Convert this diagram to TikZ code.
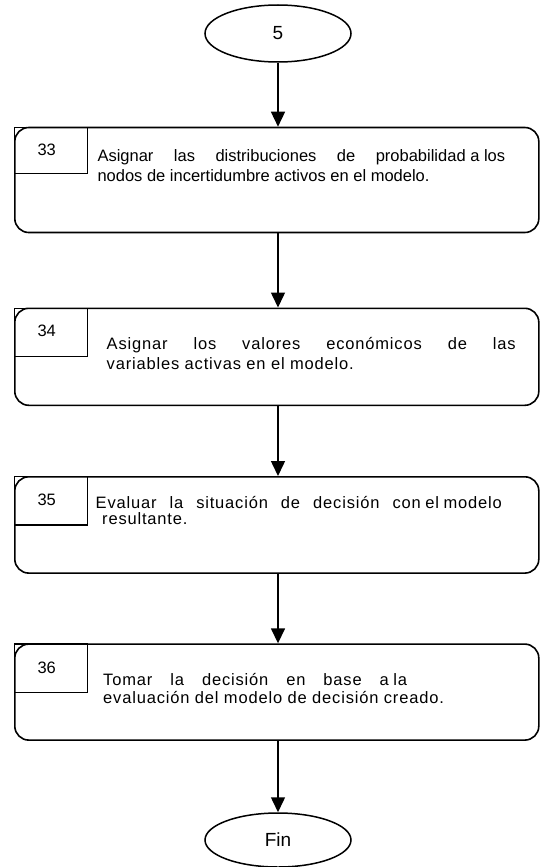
\documentclass[tikz,border=0pt]{standalone}
\usepackage{fontspec}
\setmainfont{Liberation Sans}
\newfontfamily\widefont[LetterSpace=5]{Liberation Sans}
\usetikzlibrary{shapes.geometric,arrows.meta}
\newcommand\fsp{\kern0.278em}
\begin{document}
\begin{tikzpicture}[x=1pt,y=-1pt,
  bigbox/.style={draw, line width=1.6pt, rounded corners=14pt, minimum width=524pt, inner sep=0pt, anchor=north west},
  numbox/.style={draw, line width=1.2pt, minimum width=72.5pt, inner sep=0pt, anchor=north west},
  term/.style={draw, ellipse, line width=1.5pt, minimum width=146pt, inner sep=0pt, font=\fontsize{19}{22}\selectfont},
  txt/.style={inner sep=0pt, anchor=base west, font=\fontsize{16.5}{19}\selectfont},
  wtxt/.style={inner sep=0pt, anchor=base west, font=\widefont\fontsize{16.5}{19}\selectfont},
  num/.style={inner sep=0pt, anchor=base, font=\fontsize{16.5}{19}\selectfont},
  arr/.style={line width=1.5pt, -{Triangle[length=15pt,width=14pt]}}]
\useasboundingbox (0,0) rectangle (539,867);

\node[term, minimum height=57pt] (start) at (278,33.5) {5};

% 33
\node[bigbox, minimum height=105pt] (b33) at (14,126.7) {};
\node[numbox, minimum height=46.3pt] (n33) at (14,126.7) {};
\node[num] (l33) at (46.7,155.3) {33};
\node[txt] (t33a) at (97.3,161.5) {\makebox[407.7pt][s]{Asignar las distribuciones de probabilidad\fsp a\fsp los}};
\node[txt] (t33b) at (97.3,181) {nodos de incertidumbre activos en el modelo.};

% 34
\node[bigbox, minimum height=97pt] (b34) at (14,307.5) {};
\node[numbox, minimum height=48pt] (n34) at (14,307.5) {};
\node[num] (l34) at (46.7,336.7) {34};
\node[wtxt] (t34a) at (106.5,349.5) {\makebox[409pt][s]{Asignar los valores económicos de las}};
\node[wtxt] (t34b) at (106.5,369.5) {variables activas en el modelo.};

% 35
\node[bigbox, minimum height=96.3pt] (b35) at (14,476) {};
\node[numbox, minimum height=48.3pt] (n35) at (14,476) {};
\node[num] (l35) at (46.7,505) {35};
\node[wtxt] (t35a) at (95.5,508.5) {\makebox[406.2pt][s]{Evaluar la situación de decisión con\fsp el\fsp modelo}};
\node[wtxt] (t35b) at (102,524.5) {resultante.};

% 36
\node[bigbox, minimum height=96pt] (b36) at (14,643.3) {};
\node[numbox, minimum height=48.4pt] (n36) at (14,643.3) {};
\node[num] (l36) at (46.7,673.3) {36};
\node[wtxt] (t36a) at (103,685) {\makebox[304pt][s]{Tomar la decisión en base a\fsp la}};
\node[wtxt] (t36b) at (103,703.5) {evaluación del modelo de decisión creado.};

\node[term, minimum height=54pt] (fin) at (278,840) {Fin};

\draw[arr] (start.south) -- (start.south |- b33.north);
\draw[arr] (start.south |- b33.south) -- (start.south |- b34.north);
\draw[arr] (start.south |- b34.south) -- (start.south |- b35.north);
\draw[arr] (start.south |- b35.south) -- (start.south |- b36.north);
\draw[arr] (start.south |- b36.south) -- (fin.north);
\end{tikzpicture}
\end{document}
